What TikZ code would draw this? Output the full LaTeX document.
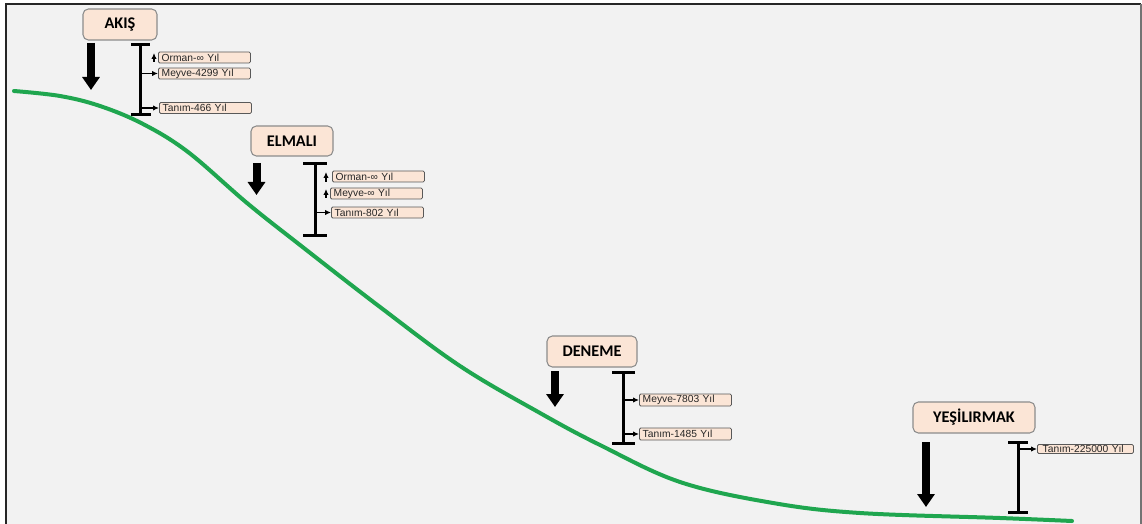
\documentclass[tikz,border=0pt]{standalone}
\usepackage{fontspec}
\setmainfont{Liberation Sans}
\newfontfamily\titlefont{Carlito}
\usetikzlibrary{arrows.meta}
\definecolor{bg}{HTML}{F2F2F2}
\definecolor{peach}{HTML}{FBE5D6}
\definecolor{titleline}{HTML}{8C8C8C}
\definecolor{tagline}{HTML}{595959}
\definecolor{slope}{HTML}{1FA64F}

\begin{document}
\begin{tikzpicture}[x=0.75pt,y=-0.75pt,
  site/.style={draw=titleline, fill=peach, rounded corners=4pt, line width=0.8pt,
    font=\titlefont\bfseries\fontsize{12.2}{13}\selectfont, inner sep=0pt},
  tag/.style={draw=tagline, fill=peach, rounded corners=1pt, line width=0.6pt,
    font=\fontsize{7.7}{8}\selectfont, anchor=west, inner xsep=2.5pt, inner ysep=0pt,
    minimum height=8.25pt, text width=64pt, align=left, text=black!85},
  span/.style={line width=2.25pt, black},
  feed/.style={line width=0.8pt, -{Latex[length=4.5pt,width=4pt]}},
  drop/.style={line width=6pt, -{Triangle[length=9.75pt,width=12.75pt]}},
]
\useasboundingbox (0,0) rectangle (1142,524);

% panel background and frame
\fill[white] (0,0) rectangle (1142,524);
\fill[bg] (6,5) rectangle (1141,524);
\draw[line width=1.5pt, black!85] (6,524) -- (6,4.5) -- (1141,4.5);
\draw[line width=1pt, black!55] (1141,4.5) -- (1141,524);

% slope profile
\draw[slope, line width=3pt, line cap=round] plot[smooth, tension=0.6] coordinates {
  (14,91) (60,96) (100,106) (143,124) (188,152) (247,203) (300,245)
  (380,307) (460,366) (540,413) (600,445)
  (680,482) (773,503) (860,513) (1000,518) (1072,521)};

% ---------- AKIŞ ----------
\node[site, minimum width=55.5pt, minimum height=23.25pt] (akis) at (120,24.5) {AKIŞ};
\coordinate (akisA) at (91,43);
\coordinate (akisB) at (91,90);
\draw[drop] (akisA) -- (akisB);
\coordinate (akisT) at (140,45);
\coordinate (akisU) at (140,115);
\draw[span] (akisT) -- (akisU);
\draw[span] (131,45) -- (150,45);
\draw[span] (131,115) -- (151,115);
\node[tag, minimum width=69pt] (akis1) at (158,57.5) {Orman-∞ Yıl};
\node[tag, minimum width=68pt] (akis2) at (158,73.5) {Meyve-4299 Yıl};
\node[tag, minimum width=66pt] (akis3) at (159,108) {Tanım-466 Yıl};
\coordinate (akis1s) at (154,62);
\coordinate (akis1e) at (154,53);
\draw[feed] (akis1s) -- (akis1e);
\draw[feed] (140,73.5) -- (akis2.west);
\draw[feed] (140,108) -- (akis3.west);

% ---------- ELMALI ----------
\node[site, minimum width=61.5pt, minimum height=22.5pt] (elmali) at (292,141) {ELMALI};
\coordinate (elmaliA) at (256.5,163);
\coordinate (elmaliB) at (256.5,195);
\draw[drop] (elmaliA) -- (elmaliB);
\draw[span] (315,164) -- (315,235);
\draw[span] (303,164) -- (327,164);
\draw[span] (303,235) -- (327,235);
\node[tag, minimum width=68pt] (elmali1) at (332,176.5) {Orman-∞ Yıl};
\node[tag, minimum width=69pt] (elmali2) at (330,193.5) {Meyve-∞ Yıl};
\node[tag, minimum width=67.5pt] (elmali3) at (331,212.5) {Tanım-802 Yıl};
\coordinate (elmali1s) at (326,182);
\coordinate (elmali1e) at (326,172);
\draw[feed] (elmali1s) -- (elmali1e);
\coordinate (elmali2s) at (326,198);
\coordinate (elmali2e) at (326,189);
\draw[feed] (elmali2s) -- (elmali2e);
\draw[feed] (315,212.5) -- (elmali3.west);

% ---------- DENEME ----------
\node[site, minimum width=67.5pt, minimum height=23.25pt] (deneme) at (592,351.5) {DENEME};
\coordinate (denemeA) at (555,371);
\coordinate (denemeB) at (555,407);
\draw[drop] (denemeA) -- (denemeB);
\draw[span] (623,372) -- (623,443);
\draw[span] (612,372) -- (635,372);
\draw[span] (612,443) -- (635,443);
\node[tag, minimum width=68pt, minimum height=9pt] (deneme1) at (639,400) {Meyve-7803 Yıl};
\node[tag, minimum width=66pt, minimum height=9pt] (deneme2) at (639,434) {Tanım-1485 Yıl};
\draw[feed] (623,400) -- (deneme1.west);
\draw[feed] (623,434) -- (deneme2.west);

% ---------- YEŞİLIRMAK ----------
\node[site, minimum width=91.5pt, minimum height=23.25pt] (yesil) at (974,417.5) {YEŞİLIRMAK};
\coordinate (yesilA) at (926,442);
\coordinate (yesilB) at (926,507);
\draw[drop] (yesilA) -- (yesilB);
\draw[span] (1018,442) -- (1018,512);
\draw[span] (1008,442) -- (1028,442);
\draw[span] (1008,512) -- (1028,512);
\node[tag, minimum width=72pt, minimum height=6.75pt] (yesil1) at (1037,449) {Tanım-225000 Yıl};
\draw[feed] (1018,449) -- (yesil1.west);
\end{tikzpicture}
\end{document}
